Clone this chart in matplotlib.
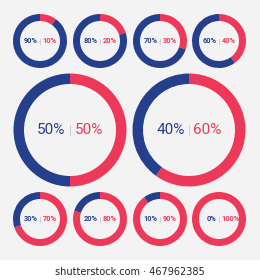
import matplotlib
matplotlib.use("Agg")
import matplotlib.pyplot as plt

# blue share for each donut (red = 100 - blue)
top_blue = [90, 80, 70, 60]
big_blue = [50, 40]
bottom_blue = [30, 20, 10, 0]

blue = '#263f8d'
red = '#ee3859'
bg = '#f3f3f3'

fig = plt.figure(figsize=(2.6, 2.8), dpi=100)
fig.patch.set_facecolor('white')
ax = fig.add_axes([0, 0, 1, 1])
ax.set_xlim(0, 260)
ax.set_ylim(0, 280)
ax.set_aspect('equal')
ax.axis('off')

# grey panel above the white footer
ax.add_patch(plt.Rectangle((0, 21), 260, 259, color=bg, zorder=0))


def donut(cx, cy, r, w, b, fs, gap, sep_h, weight):
    ax.pie([100 - b, b], colors=[red, blue], center=(cx, cy), radius=r,
           startangle=90, counterclock=False,
           wedgeprops=dict(width=w, linewidth=0))
    ax.text(cx - gap, cy, f'{b}%', color=blue, fontsize=fs, fontweight=weight,
            ha='right', va='center', family='Roboto')
    ax.text(cx + gap, cy, f'{100 - b}%', color=red, fontsize=fs, fontweight=weight,
            ha='left', va='center', family='Roboto')
    ax.plot([cx, cx], [cy - sep_h / 2, cy + sep_h / 2], color='#c8c8c8', lw=0.6)


small_x = [40, 100, 160, 219]
for x, b in zip(small_x, top_blue):
    donut(x, 280 - 41, 27, 7, b, 5.3, 2.5, 5, 'bold')

for x, b in zip([70, 189], big_blue):
    donut(x, 280 - 130, 56.5, 10.5, b, 11, 4.5, 10, 'normal')

for x, b in zip(small_x, bottom_blue):
    donut(x, 280 - 219, 27, 7, b, 5.3, 2.5, 5, 'bold')

ax.set_xlim(0, 260)
ax.set_ylim(0, 280)

ax.text(130, 280 - 272, 'shutterstock.com \u00b7 467962385', color='#222222',
        fontsize=7, ha='center', va='center', family='DejaVu Sans')

fig.savefig('out.png', dpi=100, facecolor='white')
